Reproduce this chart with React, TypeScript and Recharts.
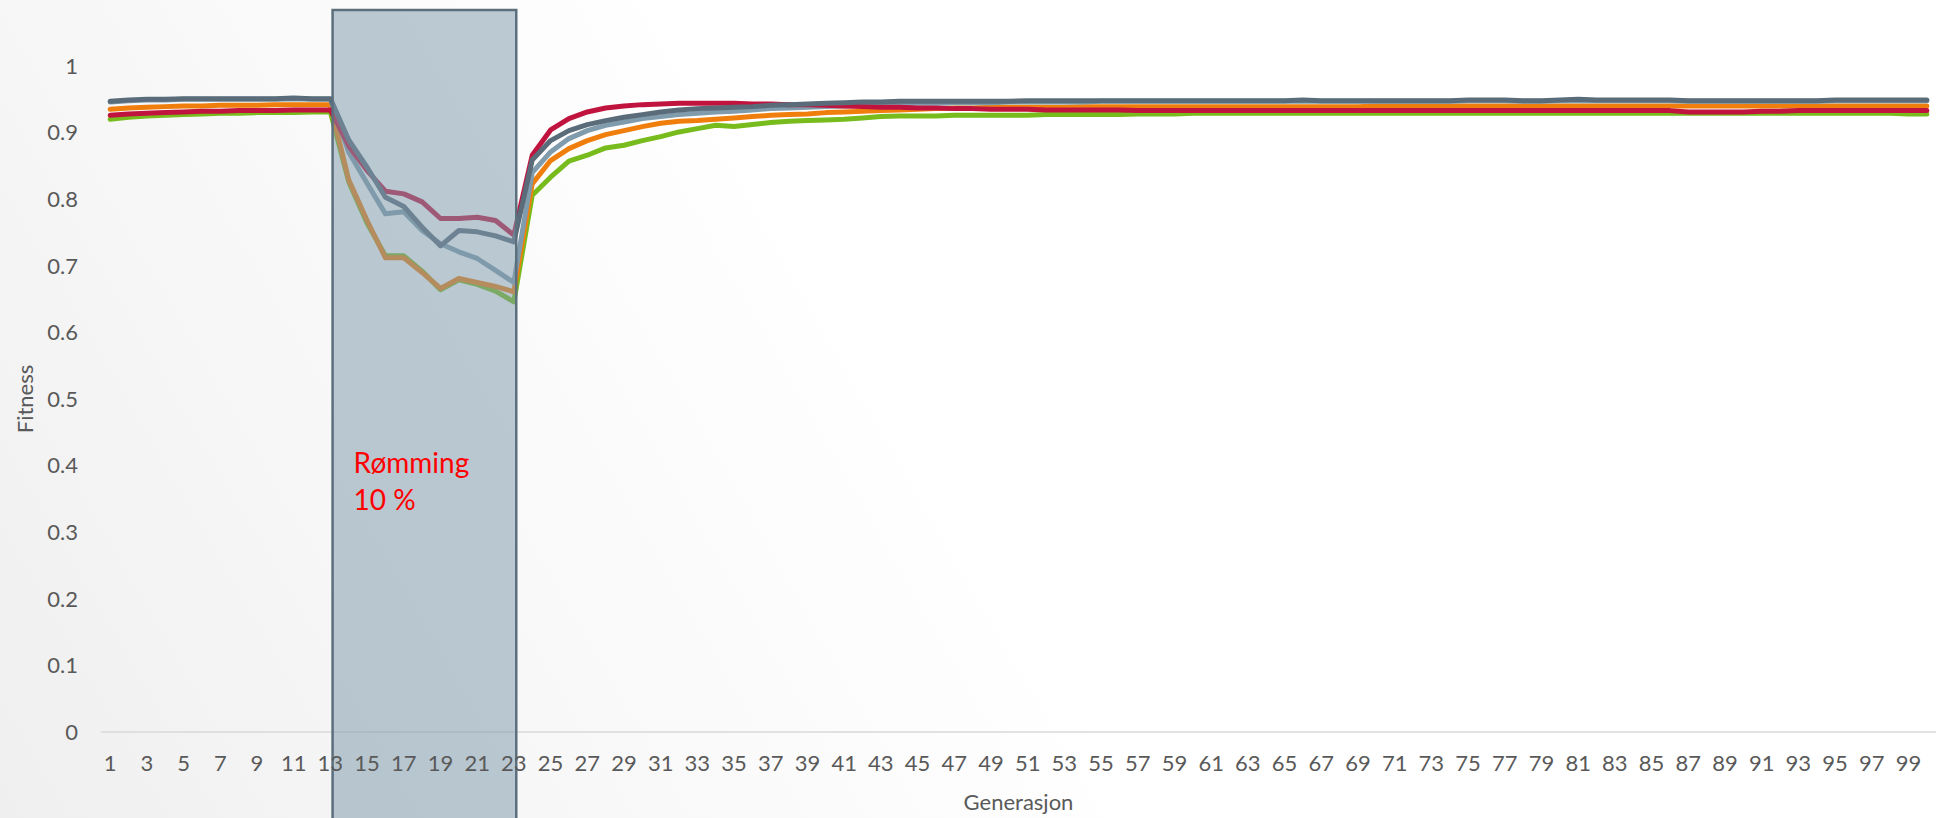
import { CartesianGrid, Line, LineChart, ReferenceArea, XAxis, YAxis } from 'recharts';

// Fitness per generasjon, fem populasjoner. Rømming skjer i generasjon 13–23.
const SLATE = [
  0.947, 0.949, 0.95, 0.95, 0.951, 0.951, 0.951, 0.951, 0.951, 0.951, 0.952, 0.951, 0.951,
  0.889, 0.848, 0.803, 0.789, 0.758, 0.73, 0.753, 0.751, 0.745, 0.736,
  0.859, 0.888, 0.903, 0.912, 0.918, 0.923, 0.927, 0.931, 0.934, 0.936, 0.937, 0.938, 0.939,
  0.941, 0.942, 0.943, 0.944, 0.945, 0.946, 0.946, 0.947,
  0.947, 0.947, 0.947, 0.947, 0.947, 0.947, 0.948, 0.948, 0.948, 0.948,
  0.948, 0.948, 0.948, 0.948, 0.948, 0.948, 0.948, 0.948, 0.948, 0.948,
  0.948, 0.949, 0.948, 0.948, 0.948, 0.948, 0.948, 0.948, 0.948, 0.948,
  0.949, 0.949, 0.949, 0.948, 0.948, 0.949, 0.95, 0.949, 0.949, 0.949,
  0.949, 0.949, 0.948, 0.948, 0.948, 0.948, 0.948, 0.948, 0.948, 0.948,
  0.949, 0.949, 0.949, 0.949, 0.949, 0.949,
];

const LIGHT = [
  0.946, 0.948, 0.949, 0.949, 0.95, 0.95, 0.95, 0.95, 0.95, 0.95, 0.951, 0.95, 0.95,
  0.871, 0.824, 0.778, 0.781, 0.753, 0.733, 0.721, 0.711, 0.693, 0.675,
  0.84, 0.871, 0.891, 0.903, 0.911, 0.916, 0.921, 0.924, 0.927, 0.929, 0.931, 0.932, 0.934,
  0.936, 0.937, 0.938, 0.939, 0.94, 0.941, 0.942, 0.943,
  0.944, 0.944, 0.945, 0.945, 0.945, 0.946, 0.946, 0.946, 0.946, 0.946,
  0.947, 0.947, 0.947, 0.947, 0.947, 0.947, 0.947, 0.947, 0.947, 0.947,
  0.947, 0.947, 0.947, 0.947, 0.947, 0.947, 0.947, 0.947, 0.947, 0.947,
  0.948, 0.948, 0.948, 0.947, 0.947, 0.948, 0.948, 0.948, 0.948, 0.948,
  0.948, 0.948, 0.947, 0.947, 0.947, 0.947, 0.947, 0.947, 0.947, 0.947,
  0.948, 0.948, 0.948, 0.948, 0.948, 0.948,
];

const ORANGE = [
  0.935, 0.937, 0.938, 0.939, 0.94, 0.94, 0.941, 0.941, 0.941, 0.942, 0.942, 0.942, 0.942,
  0.829, 0.768, 0.712, 0.712, 0.69, 0.666, 0.681, 0.675, 0.669, 0.661,
  0.823, 0.858, 0.876, 0.888, 0.897, 0.903, 0.909, 0.914, 0.917, 0.918, 0.92, 0.922, 0.924,
  0.926, 0.927, 0.928, 0.93, 0.931, 0.932, 0.933, 0.934,
  0.935, 0.936, 0.937, 0.937, 0.938, 0.938, 0.938, 0.938, 0.938, 0.939,
  0.939, 0.939, 0.939, 0.939, 0.939, 0.939, 0.939, 0.939, 0.939, 0.939,
  0.939, 0.939, 0.939, 0.939, 0.939, 0.94, 0.94, 0.94, 0.94, 0.94,
  0.94, 0.94, 0.94, 0.94, 0.94, 0.94, 0.94, 0.94, 0.94, 0.94,
  0.94, 0.94, 0.94, 0.94, 0.94, 0.94, 0.94, 0.94, 0.94, 0.94,
  0.94, 0.94, 0.94, 0.94, 0.94, 0.94,
];

const CRIMSON = [
  0.926, 0.928, 0.929, 0.93, 0.931, 0.932, 0.932, 0.933, 0.933, 0.933, 0.934, 0.934, 0.934,
  0.88, 0.843, 0.812, 0.808, 0.796, 0.771, 0.771, 0.773, 0.768, 0.746,
  0.866, 0.904, 0.921, 0.931, 0.937, 0.94, 0.942, 0.943, 0.944, 0.944, 0.944, 0.944, 0.943,
  0.943, 0.942, 0.942, 0.941, 0.94, 0.939, 0.938, 0.938,
  0.937, 0.937, 0.936, 0.936, 0.935, 0.935, 0.935, 0.934, 0.934, 0.934,
  0.934, 0.934, 0.933, 0.933, 0.933, 0.933, 0.933, 0.933, 0.933, 0.933,
  0.933, 0.933, 0.933, 0.933, 0.933, 0.933, 0.933, 0.933, 0.933, 0.933,
  0.933, 0.933, 0.933, 0.933, 0.933, 0.933, 0.933, 0.933, 0.933, 0.933,
  0.933, 0.933, 0.931, 0.931, 0.931, 0.931, 0.932, 0.932, 0.933, 0.933,
  0.933, 0.933, 0.933, 0.933, 0.933, 0.933,
];

const GREEN = [
  0.92, 0.923, 0.925, 0.926, 0.927, 0.928, 0.929, 0.929, 0.93, 0.93, 0.93, 0.931, 0.931,
  0.826, 0.764, 0.715, 0.715, 0.692, 0.664, 0.679, 0.672, 0.662, 0.646,
  0.806, 0.833, 0.857, 0.866, 0.877, 0.881, 0.888, 0.894, 0.901, 0.906, 0.911, 0.909, 0.912,
  0.915, 0.917, 0.918, 0.919, 0.92, 0.922, 0.924, 0.925,
  0.925, 0.925, 0.926, 0.926, 0.926, 0.926, 0.926, 0.927, 0.927, 0.927,
  0.927, 0.927, 0.928, 0.928, 0.928, 0.929, 0.929, 0.929, 0.929, 0.929,
  0.929, 0.929, 0.929, 0.929, 0.929, 0.929, 0.929, 0.929, 0.929, 0.929,
  0.929, 0.929, 0.929, 0.929, 0.929, 0.929, 0.929, 0.929, 0.929, 0.929,
  0.929, 0.929, 0.929, 0.929, 0.929, 0.929, 0.929, 0.929, 0.929, 0.929,
  0.929, 0.929, 0.929, 0.929, 0.928, 0.928,
];

const Y_TICKS = [0, 0.1, 0.2, 0.3, 0.4, 0.5, 0.6, 0.7, 0.8, 0.9, 1];

const ESCAPE_START = 13;
const ESCAPE_END = 23;
const ESCAPE_LABEL = ['Rømming', '10 %'];

const GENERATIONS = SLATE.map((_, i) => i + 1);

const SERIES = [
  { key: 'green', values: GREEN, color: '#78bb1c' },
  { key: 'orange', values: ORANGE, color: '#f07e0c' },
  { key: 'light', values: LIGHT, color: '#7f9bac' },
  { key: 'crimson', values: CRIMSON, color: '#c0143e' },
  { key: 'slate', values: SLATE, color: '#5a6c79' },
];

const CHART_W = 1936;
const CHART_H = 818;
const TEXT = '#595959';

const rows = GENERATIONS.map((gen, i) => {
  const row: Record<string, number> = { gen };
  SERIES.forEach((s) => {
    row[s.key] = s.values[i];
  });
  return row;
});

function EscapeBand(props: any) {
  const { x, y, width, height } = props;
  const bands = GENERATIONS.indexOf(ESCAPE_END) - GENERATIONS.indexOf(ESCAPE_START) + 1;
  const band = width / bands;
  const left = x + band * 0.62;
  const right = x + width - band * 0.37;
  const top = y - 56;
  const bottom = CHART_H + 2;
  const tx = left + 21;
  return (
    <g>
      <rect
        x={left}
        y={top}
        width={right - left}
        height={bottom - top}
        fill="#7f9aab"
        fillOpacity={0.52}
        stroke="#5b6f7c"
        strokeWidth={2.5}
      />
      <text x={tx} y={y + height * 0.611} fill="#ff0000" fontSize={28} fontFamily="Lato">
        {ESCAPE_LABEL.map((line, i) => (
          <tspan key={line} x={tx} dy={i === 0 ? 0 : 37}>
            {line}
          </tspan>
        ))}
      </text>
    </g>
  );
}

export default function App() {
  return (
    <div
      style={{
        position: 'absolute',
        left: 0,
        top: 0,
        width: CHART_W,
        height: CHART_H,
        fontFamily: 'Lato, sans-serif',
        background: 'linear-gradient(60deg, #efefef 0%, #f7f7f7 22%, #ffffff 48%)',
      }}
    >
      <LineChart
        width={CHART_W}
        height={CHART_H}
        data={rows}
        margin={{ top: 66, right: 0, bottom: 0, left: 0 }}
      >
        <CartesianGrid horizontal={false} vertical={false} />
        <XAxis
          dataKey="gen"
          type="category"
          scale="band"
          interval={1}
          height={86}
          tickLine={false}
          tickSize={0}
          tickMargin={23}
          axisLine={{ stroke: '#d9d9d9', strokeWidth: 1.5 }}
          tick={{ fontSize: 22, fill: TEXT, fontFamily: 'Lato' }}
          label={{
            value: 'Generasjon',
            position: 'insideBottom',
            offset: 8,
            fontSize: 22,
            fill: TEXT,
            fontFamily: 'Lato',
          }}
        />
        <YAxis
          type="number"
          domain={[0, 1]}
          ticks={Y_TICKS}
          interval={0}
          width={101}
          axisLine={false}
          tickLine={false}
          tickSize={0}
          tickMargin={23}
          tick={{ fontSize: 22, fill: TEXT, fontFamily: 'Lato' }}
          label={{
            value: 'Fitness',
            angle: -90,
            position: 'insideLeft',
            offset: 25,
            fontSize: 22,
            fill: TEXT,
            fontFamily: 'Lato',
            style: { textAnchor: 'middle' },
          }}
        />
        {SERIES.map((s) => (
          <Line
            key={s.key}
            type="linear"
            dataKey={s.key}
            stroke={s.color}
            strokeWidth={5}
            strokeLinejoin="round"
            strokeLinecap="round"
            dot={false}
            activeDot={false}
            isAnimationActive={false}
          />
        ))}
        <ReferenceArea
          x1={ESCAPE_START}
          x2={ESCAPE_END}
          shape={EscapeBand}
          zIndex={1500}
        />
      </LineChart>
    </div>
  );
}
